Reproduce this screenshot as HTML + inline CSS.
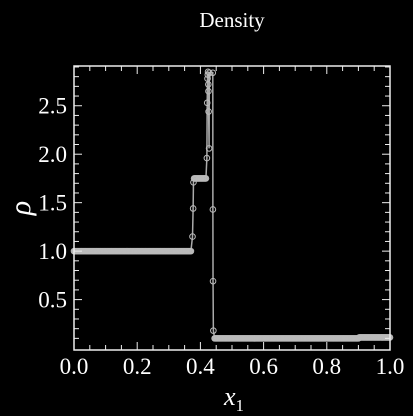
<!DOCTYPE html>
<html><head><meta charset="utf-8"><style>
html,body{margin:0;padding:0;background:#000;}
svg{display:block;}
text{font-family:"Liberation Serif","DejaVu Serif",serif;fill:#fff;}
</style></head><body>
<svg id="chart" width="413" height="416" viewBox="0 0 413 416" xmlns="http://www.w3.org/2000/svg">
<rect width="413" height="416" fill="#000"/>
<text x="232" y="27" font-size="21" text-anchor="middle">Density</text>
<g id="marks"></g>
<g id="axes"></g>
<text x="224" y="405" font-size="26" font-style="italic">x<tspan font-size="17" font-style="normal" dy="6">1</tspan></text>
<text x="22" y="216" font-size="30" font-style="italic" text-anchor="middle" transform="rotate(-90 22 208)">ρ</text>
</svg>
<script>
// plateau segments: start x, end x, value
const plateauStart = [0.0, 0.38, 0.445, 0.9025];
const plateauEnd   = [0.372, 0.418, 0.90, 1.0];
const plateauValue = [1.0, 1.75, 0.10, 0.11];
// transition points (x, rho)
const pointX = [0.375, 0.377, 0.378, 0.4205, 0.4215, 0.4225, 0.4235, 0.4242, 0.425, 0.4255, 0.426, 0.4275, 0.4283, 0.4392, 0.4395, 0.44, 0.441];
const pointY = [1.15, 1.44, 1.71, 1.96, 2.53, 2.78, 2.82, 2.85, 2.72, 2.65, 2.44, 2.06, 2.84, 2.84, 1.43, 0.69, 0.18];
const xTicks = [0, 0.2, 0.4, 0.6, 0.8, 1.0];
const xTickLabels = ["0.0","0.2","0.4","0.6","0.8","1.0"];
const yTicks = [0.5, 1.0, 1.5, 2.0, 2.5];
const yTickLabels = ["0.5","1.0","1.5","2.0","2.5"];

const L=74, R=390, T=66, B=350;
const xMin=0, xMax=1, yMin=-0.02, yMax=2.91;
const sx = v => L + (v - xMin) / (xMax - xMin) * (R - L);
const sy = v => B - (v - yMin) / (yMax - yMin) * (B - T);
const NS='http://www.w3.org/2000/svg';
const marks=document.getElementById('marks'), axes=document.getElementById('axes');
function mk(tag, attrs, parent){const e=document.createElementNS(NS,tag);for(const k in attrs)e.setAttribute(k,attrs[k]);parent.appendChild(e);return e;}

let pts=[];
for(let i=0;i<plateauStart.length;i++){
  for(let x=plateauStart[i]; x<=plateauEnd[i]+1e-9; x+=0.0025) pts.push([x, plateauValue[i]]);
}
for(let i=0;i<pointX.length;i++) pts.push([pointX[i], pointY[i]]);
pts.sort((a,b)=>a[0]-b[0]);

const line=mk('polyline',{points:pts.map(p=>sx(p[0]).toFixed(2)+','+sy(p[1]).toFixed(2)).join(' '),fill:'none',stroke:'#aaa','stroke-width':1.5},marks);


pts.forEach(p=>{
  const c=mk('circle',{cx:sx(p[0]),cy:sy(p[1]),r:2.8,fill:'none',stroke:'#bbb','stroke-width':1},marks);
  
  
});

const fr=mk('rect',{x:L,y:T,width:R-L,height:B-T,fill:'none',stroke:'#eee','stroke-width':1.5},axes);


for(let k=0;k<=20;k++){
  const v=k*0.05, x=sx(v), len=(k%4===0)?8:5;
  const t1=mk('line',{x1:x,y1:B,x2:x,y2:B-len,stroke:'#eee','stroke-width':1},axes);
  
  
  const t2=mk('line',{x1:x,y1:T,x2:x,y2:T+len,stroke:'#eee','stroke-width':1},axes);
  
  
}
for(let k=1;k<=29;k++){
  const v=k*0.1, y=sy(v), len=(k%5===0)?8:5;
  const t1=mk('line',{x1:L,y1:y,x2:L+len,y2:y,stroke:'#eee','stroke-width':1},axes);
  
  
  const t2=mk('line',{x1:R,y1:y,x2:R-len,y2:y,stroke:'#eee','stroke-width':1},axes);
  
  
}
xTicks.forEach((v,i)=>{
  const t=mk('text',{x:sx(v),y:374,'font-size':23,'text-anchor':'middle'},axes);
  t.textContent=xTickLabels[i];
  
  
});
yTicks.forEach((v,i)=>{
  const t=mk('text',{x:67,y:sy(v)+8,'font-size':23,'text-anchor':'end'},axes);
  t.textContent=yTickLabels[i];
  
  
});
</script>
</body></html>
